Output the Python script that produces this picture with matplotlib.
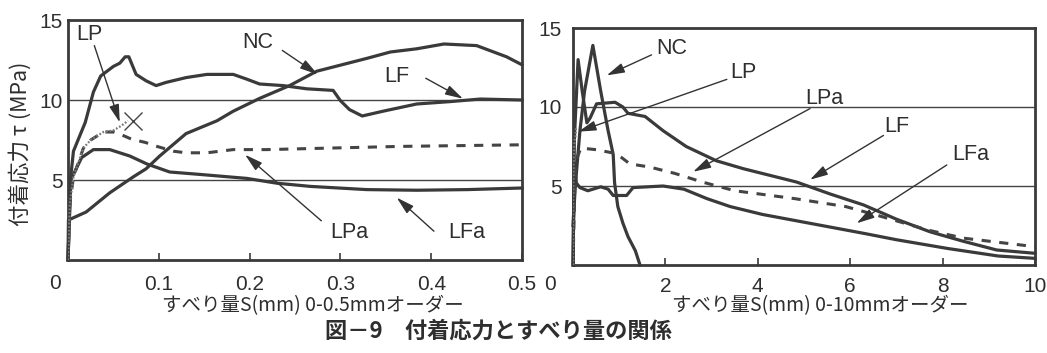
import matplotlib
matplotlib.use("Agg")
import matplotlib.pyplot as plt

# ---------------- data: left panel (0-0.5 mm) ----------------
s_nc_l = [0, 0.0005, 0.02, 0.046, 0.072, 0.086, 0.101, 0.13, 0.164, 0.182, 0.211, 0.244,
          0.274, 0.329, 0.355, 0.384, 0.414, 0.45, 0.483, 0.5]
tau_nc_l = [0, 2.5, 3.0, 4.2, 5.2, 5.7, 6.5, 7.9, 8.7, 9.3, 10.1, 10.9,
            11.8, 12.6, 13.0, 13.2, 13.5, 13.4, 12.7, 12.2]

s_lf_l = [0, 0.003, 0.006, 0.019, 0.028, 0.036, 0.05, 0.057, 0.063, 0.067, 0.075, 0.086,
          0.097, 0.108, 0.13, 0.153, 0.182, 0.197, 0.211, 0.237, 0.263, 0.292, 0.30,
          0.31, 0.324, 0.347, 0.384, 0.421, 0.454, 0.5]
tau_lf_l = [0, 5.2, 6.8, 8.6, 10.5, 11.5, 12.1, 12.3, 12.7, 12.7, 11.6, 11.2,
            10.9, 11.1, 11.4, 11.6, 11.6, 11.3, 11.0, 10.9, 10.7, 10.6, 9.96,
            9.4, 9.0, 9.3, 9.75, 9.9, 10.06, 10.0]

s_lfa_l = [0, 0.003, 0.015, 0.028, 0.046, 0.057, 0.068, 0.087, 0.112, 0.145, 0.197,
           0.23, 0.267, 0.329, 0.384, 0.44, 0.5]
tau_lfa_l = [0, 5.0, 6.4, 6.9, 6.9, 6.7, 6.5, 6.0, 5.5, 5.35, 5.1,
             4.8, 4.6, 4.4, 4.36, 4.4, 4.5]

s_lp = [0, 0.002, 0.006, 0.017, 0.025, 0.039, 0.05, 0.059, 0.066]
tau_lp = [0, 3.5, 5.2, 7.0, 7.5, 8.0, 8.1, 8.4, 8.7]
s_lp_fail = [0.072]
tau_lp_fail = [8.7]

s_lpa_l = [0, 0.002, 0.006, 0.017, 0.025, 0.039, 0.05, 0.06, 0.07, 0.085, 0.098, 0.116,
           0.13, 0.153, 0.182, 0.219, 0.292, 0.366, 0.5]
tau_lpa_l = [0, 3.5, 5.2, 7.0, 7.5, 8.0, 8.0, 7.8, 7.55, 7.35, 7.1, 6.8,
             6.7, 6.7, 6.9, 6.9, 7.0, 7.1, 7.2]

# ---------------- data: right panel (0-10 mm) ----------------
s_nc_r = [0, 0.05, 0.15, 0.25, 0.43, 0.6, 0.76, 0.87, 0.9, 0.97, 1.08, 1.19, 1.35, 1.45]
tau_nc_r = [2.5, 5.0, 8.5, 11.0, 13.9, 11.0, 8.5, 7.0, 5.2, 3.7, 2.65, 1.8, 0.9, 0]

s_lf_r = [0, 0.03, 0.11, 0.2, 0.3, 0.37, 0.51, 0.91, 1.08, 1.19, 1.56, 1.95, 2.45, 3.1,
          3.68, 4.84, 5.56, 6.29, 7.0, 7.73, 8.45, 9.17, 10]
tau_lf_r = [0, 8.0, 13.0, 11.0, 9.0, 9.3, 10.2, 10.3, 10.0, 9.6, 9.4, 8.5, 7.5, 6.6,
            6.1, 5.25, 4.5, 3.8, 2.9, 2.1, 1.5, 0.95, 0.74]

s_lfa_r = [0, 0.03, 0.07, 0.15, 0.32, 0.6, 0.76, 0.87, 1.04, 1.16, 1.3, 1.95, 2.4, 2.9,
           3.4, 4.1, 5.2, 6.3, 7.0, 8.1, 9.2, 10]
tau_lfa_r = [0, 6.5, 5.2, 4.9, 4.7, 4.95, 4.8, 4.4, 4.4, 4.4, 4.9, 5.0, 4.8, 4.2,
             3.7, 3.2, 2.6, 2.0, 1.6, 1.05, 0.57, 0.42]

s_lpa_r = [0, 0.05, 0.17, 0.5, 0.94, 1.23, 1.66, 2.2, 2.8, 3.5, 4.8, 5.9, 6.7, 7.7, 8.45, 10]
tau_lpa_r = [0, 6.5, 7.4, 7.3, 7.05, 6.4, 6.2, 5.8, 5.25, 4.7, 4.2, 3.7, 3.05, 2.2, 1.7, 1.16]

xticks_l = [0.1, 0.2, 0.3, 0.4, 0.5]
xticks_r = [2, 4, 6, 8, 10]
yticks = [5, 10, 15]

# ---------------- styling ----------------
LINE = "#3a3a3a"
TEXT = "#2e2e2e"
NUM_FONT = ["Liberation Sans", "DejaVu Sans"]
JP_FONT = ["Noto Sans CJK JP", "DejaVu Sans"]
TICK_FS = 15

fig = plt.figure(figsize=(10.47, 3.53), dpi=100)
fig.patch.set_facecolor("white")

ax_l = fig.add_axes([68 / 1047, 1 - 260 / 353, 454 / 1047, 240 / 353])
ax_r = fig.add_axes([573 / 1047, 1 - 265 / 353, 462 / 1047, 237 / 353])


def style(ax, xmax, xticks, pad_x, pad_y):
    ax.set_xlim(0, xmax)
    ax.set_ylim(0, 15)
    ax.set_xticks(xticks)
    ax.set_xticklabels([f"{t:g}" for t in xticks], family=NUM_FONT, fontsize=TICK_FS, color=TEXT)
    ax.set_yticks(yticks)
    ax.set_yticklabels([str(t) for t in yticks], family=NUM_FONT, fontsize=TICK_FS, color=TEXT)
    ax.tick_params(axis="x", direction="in", length=5, width=1.2, color=LINE, pad=pad_x)
    ax.tick_params(axis="y", length=0, pad=pad_y)
    for sp in ax.spines.values():
        sp.set_linewidth(2.0)
        sp.set_color(LINE)
    for y in (5, 10):
        ax.axhline(y, color="#444444", lw=1.0, zorder=1)


style(ax_l, 0.5, xticks_l, 11, 4)
style(ax_r, 10, xticks_r, 9, 8)

solid = dict(color=LINE, lw=2.3, solid_joinstyle="round", zorder=3, clip_on=False)
dash = dict(color="#444444", lw=2.2, linestyle=(0, (3.0, 2.8)), zorder=3)
dot = dict(color="#7a7a7a", lw=1.6, linestyle=(0, (0.8, 0.8)), zorder=4)

# left panel curves
ax_l.plot(s_nc_l, tau_nc_l, **solid)
ax_l.plot(s_lf_l, tau_lf_l, **solid)
ax_l.plot(s_lfa_l, tau_lfa_l, **solid)
ax_l.plot(s_lpa_l, tau_lpa_l, **dash)
ax_l.plot(s_lp, tau_lp, **dot)
ax_l.plot(s_lp_fail, tau_lp_fail, marker="x", ms=13, mew=1.0, color="#444444", ls="none", zorder=5)

# right panel curves
ax_r.plot(s_nc_r, tau_nc_r, **solid)
ax_r.plot(s_lf_r, tau_lf_r, **solid)
ax_r.plot(s_lfa_r, tau_lfa_r, **solid)
ax_r.plot(s_lpa_r, tau_lpa_r, **dash)
ax_r.plot(s_lp, tau_lp, **dot)

arrow = dict(arrowstyle="-|>,head_length=0.9,head_width=0.25", color="#333333",
             lw=1.0, shrinkA=0, shrinkB=0, mutation_scale=12)


def label(ax, txt, tpos, tail, tip):
    ax.text(*tpos, txt, family=NUM_FONT, fontsize=15.5, color=TEXT,
            ha="center", va="center", zorder=6)
    ax.annotate("", xy=tip, xytext=tail, arrowprops=arrow, zorder=6)


label(ax_l, "LP", (0.024, 14.1), (0.029, 13.4), (0.057, 8.6))
label(ax_l, "NC", (0.209, 13.6), (0.236, 13.1), (0.275, 11.6))
label(ax_l, "LF", (0.362, 11.5), (0.394, 11.36), (0.435, 10.08))
label(ax_l, "LPa", (0.31, 1.7), (0.279, 2.45), (0.195, 6.58))
label(ax_l, "LFa", (0.439, 1.7), (0.403, 1.8), (0.362, 3.9))

label(ax_r, "NC", (2.14, 13.7), (1.70, 13.3), (0.73, 12.0))
label(ax_r, "LP", (3.69, 12.2), (3.33, 11.75), (0.115, 8.44))
label(ax_r, "LPa", (5.45, 10.55), (5.13, 9.9), (2.6, 5.9))
label(ax_r, "LF", (7.0, 8.75), (6.72, 8.2), (5.13, 5.4))
label(ax_r, "LFa", (8.6, 7.0), (8.09, 6.33), (6.14, 2.64))

# origin "0" labels
ax_l.annotate("0", xy=(0, 0), xytext=(-9.4, -16.6), textcoords="offset points",
              family=NUM_FONT, fontsize=TICK_FS, color=TEXT, ha="center", va="center")
ax_r.annotate("0", xy=(0, 0), xytext=(-16.6, -14.4), textcoords="offset points",
              family=NUM_FONT, fontsize=TICK_FS, color=TEXT, ha="center", va="center")

# axis titles
fig.text(20 / 1047, 1 - 144 / 353, "付着応力 τ (MPa)", rotation=90, family=JP_FONT,
         fontsize=15.5, color=TEXT, ha="center", va="center")
fig.text(313 / 1047, 1 - 306 / 353, "すべり量S(mm) 0-0.5mmオーダー", family=JP_FONT,
         fontsize=14, color=TEXT, ha="center", va="center")
fig.text(820 / 1047, 1 - 306 / 353, "すべり量S(mm) 0-10mmオーダー", family=JP_FONT,
         fontsize=14, color=TEXT, ha="center", va="center")
fig.text(498 / 1047, 1 - 331 / 353, "図－9　付着応力とすべり量の関係", family=JP_FONT,
         fontsize=16, fontweight="bold", color=TEXT, ha="center", va="center")

fig.savefig("out.png", dpi=100, facecolor="white")
